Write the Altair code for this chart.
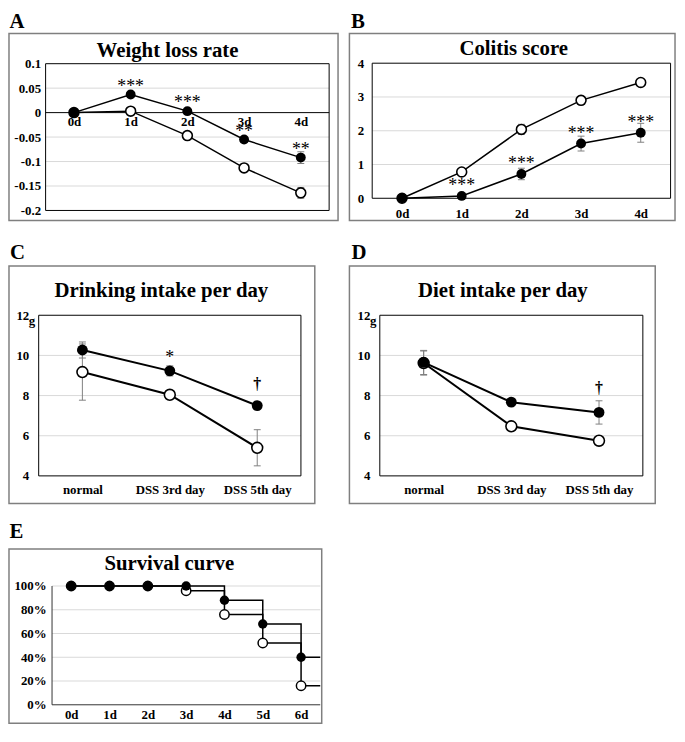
import json
import altair as alt
import pandas as pd

FONT = "Liberation Serif"
GRID = "#d9d9d9"
ERR = "#7f7f7f"

# ---------------- data ----------------
days5 = ["0d", "1d", "2d", "3d", "4d"]
days7 = ["0d", "1d", "2d", "3d", "4d", "5d", "6d"]
intake_cats = ["normal", "DSS 3rd day", "DSS 5th day"]

wl_filled = [0, 0.037, 0.003, -0.055, -0.092]
wl_filled_err = [0, 0.004, 0.004, 0.006, 0.012]
wl_open = [0, 0.003, -0.047, -0.113, -0.164]
wl_open_err = [0, 0.003, 0.004, 0.006, 0.011]
wl_marks = ["", "***", "***", "**", "**"]
wl_ticks = [0.1, 0.05, 0, -0.05, -0.1, -0.15, -0.2]
wl_grid = [0.05, -0.05, -0.1, -0.15]

cs_filled = [0, 0.07, 0.72, 1.62, 1.94]
cs_filled_err = [0, 0.05, 0.17, 0.22, 0.28]
cs_open = [0, 0.78, 2.04, 2.9, 3.43]
cs_open_err = [0, 0.08, 0.15, 0.12, 0.05]
cs_marks = ["", "***", "***", "***", "***"]
cs_ticks = [0, 1, 2, 3, 4]
cs_grid = [1, 2, 3]

dr_filled = [10.27, 9.23, 7.5]
dr_filled_err = [0.4, 0.25, 0.12]
dr_open = [9.17, 8.04, 5.4]
dr_open_err = [1.4, 0.1, 0.9]
dr_marks = ["", "*", "†"]

di_filled = [9.65, 7.67, 7.16]
di_filled_err = [0.6, 0.1, 0.58]
di_open = [9.62, 6.47, 5.75]
di_open_err = [0.6, 0.1, 0.12]
di_marks = ["", "", "†"]

intake_ticks = [4, 6, 8, 10, 12]
intake_grid = [6, 8, 10]

sv_filled = [100, 100, 100, 100, 88, 68, 40]
sv_open = [100, 100, 100, 96, 76, 52, 16]
sv_ticks = [0, 20, 40, 60, 80, 100]
sv_grid = [20, 40, 60, 80, 100]

titles = ["Weight loss rate", "Colitis score", "Drinking intake per day",
          "Diet intake per day", "Survival curve"]
letters = ["A", "B", "C", "D", "E"]

# ---------------- geometry (pixels inside each panel box) ----------------
GA = dict(W=332.5, H=189, pl=37, pr=323.5, pt=30.5, pb=178.8, axis_y=79.9,
          xpad=3, ypad=5, tx=160.2, ty=23.5, lx=0.5, ly=-5.5)
GB = dict(W=329, H=189, pl=23, pr=324.5, pt=30, pb=166.5, axis_y=166.5,
          xpad=9, ypad=8.5, tx=166, ty=21.5, lx=1.5, ly=-5.5)
GC = dict(W=309, H=240, pl=30, pr=295, pt=49.7, pb=212, axis_y=212,
          xpad=8, ypad=10, tx=154, ty=31, lx=1, ly=-7)
GD = dict(W=309, H=240, pl=30.7, pr=296.5, pt=49.7, pb=212, axis_y=212,
          xpad=8, ypad=10, tx=155, ty=31, lx=2, ly=-7)
GE = dict(W=316, H=176, pl=43.5, pr=314.5, pt=37.3, pb=157.3, axis_y=157.3,
          xpad=4, ypad=6, tx=162, ty=20.7, lx=0.5, ly=-11)


def axes(g, n, cats, yvals, ylab_expr, xmax=None):
    xmax = n - 0.5 if xmax is None else xmax
    xs = alt.Scale(domain=[-0.5, xmax], range=[g["pl"], g["pr"]], nice=False, zero=False)
    common = dict(title=None, domain=False, ticks=False, grid=False, labelFont=FONT,
                  labelFontWeight="bold", labelFontSize=13, labelColor="black",
                  labelFlush=False, labelOverlap=False)
    xaxis = alt.Axis(values=list(range(n)), labelExpr=json.dumps(cats) + "[datum.value]",
                     labelPadding=g["xpad"], offset=-(g["H"] - g["axis_y"]), labelAngle=0,
                     **common)
    yaxis = alt.Axis(values=yvals, labelExpr=ylab_expr, labelPadding=g["ypad"],
                     offset=-g["pl"], **common)
    return xs, xaxis, yaxis


def text_layers(g, title, letter):
    t = alt.Chart(pd.DataFrame({"t": [title]})).mark_text(
        font=FONT, fontSize=21, fontWeight="bold", align="center",
        baseline="alphabetic").encode(
        x=alt.value(g["tx"]), y=alt.value(g["ty"]), text="t:N", color=alt.value("black"))
    l = alt.Chart(pd.DataFrame({"t": [letter]})).mark_text(
        font=FONT, fontSize=21, fontWeight="bold", align="left",
        baseline="alphabetic").encode(
        x=alt.value(g["lx"]), y=alt.value(g["ly"]), text="t:N", color=alt.value("black"))
    return [t, l]


def line_panel(g, title, letter, cats, f, fe, o, oe, marks, ydom, yvals, grids,
               ylab_expr, lw=1.5, size=100, star_dy=-3, dagger_dy=-19,
               zero_line=False, unit=False):
    n = len(cats)
    xs, xaxis, yaxis = axes(g, n, cats, yvals, ylab_expr)
    ys = alt.Scale(domain=ydom, range=[g["pb"], g["pt"]], nice=False, zero=False)
    X = alt.X("x:Q", scale=xs, axis=xaxis)
    Y = alt.Y("y:Q", scale=ys, axis=yaxis)

    rows = []
    for grp, vals, errs in (("open", o, oe), ("filled", f, fe)):
        for i, (v, e) in enumerate(zip(vals, errs)):
            rows.append({"x": i, "y": v, "lo": v - e, "hi": v + e, "e": e, "grp": grp})
    df = pd.DataFrame(rows)
    edf = df[df.e > 0]
    err_df = pd.DataFrame({"x": edf.x, "y": edf.lo, "y2": edf.hi})
    cap_df = pd.concat([pd.DataFrame({"x": edf.x, "y": edf.lo}),
                        pd.DataFrame({"x": edf.x, "y": edf.hi})])

    layers = []
    layers.append(alt.Chart(pd.DataFrame({"x": [-0.5] * len(grids), "x2": [n - 0.5] * len(grids),
                                          "y": grids}))
                  .mark_rule(color=GRID, strokeWidth=1)
                  .encode(x=X, x2="x2:Q", y=Y))
    layers.append(alt.Chart(pd.DataFrame({"x": [-0.5], "x2": [n - 0.5], "y": [ydom[0]],
                                          "y2": [ydom[1]]}))
                  .mark_rect(fillOpacity=0, stroke="black", strokeWidth=1)
                  .encode(x=X, x2="x2:Q", y=Y, y2="y2:Q"))
    if zero_line:
        layers.append(alt.Chart(pd.DataFrame({"x": [-0.5], "x2": [n - 0.5], "y": [0]}))
                      .mark_rule(color="black", strokeWidth=1)
                      .encode(x=X, x2="x2:Q", y=Y))
    layers.append(alt.Chart(err_df).mark_rule(color=ERR, strokeWidth=1)
                  .encode(x=X, y=Y, y2="y2:Q"))
    layers.append(alt.Chart(cap_df).mark_tick(orient="horizontal", size=7, thickness=1,
                                              color=ERR, opacity=1)
                  .encode(x=X, y=Y))
    layers.append(alt.Chart(df).mark_line(color="black", strokeWidth=lw)
                  .encode(x=X, y=Y, detail="grp:N"))
    layers.append(alt.Chart(df[df.grp == "open"])
                  .mark_circle(size=size, opacity=1, color="white", stroke="black",
                               strokeWidth=1.6)
                  .encode(x=X, y=Y))
    layers.append(alt.Chart(df[df.grp == "filled"])
                  .mark_circle(size=size, opacity=1, color="black")
                  .encode(x=X, y=Y))
    stars = [(i, f[i], m) for i, m in enumerate(marks) if m and "*" in m]
    daggers = [(i, f[i], m) for i, m in enumerate(marks) if m and "*" not in m]
    if stars:
        sdf = pd.DataFrame(stars, columns=["x", "y", "t"])
        layers.append(alt.Chart(sdf).mark_text(font=FONT, fontSize=18, baseline="alphabetic",
                                               align="center", dy=star_dy)
                      .encode(x=X, y=Y, text="t:N", color=alt.value("black")))
    if daggers:
        ddf = pd.DataFrame(daggers, columns=["x", "y", "t"])
        layers.append(alt.Chart(ddf).mark_text(font=FONT, fontSize=16, fontWeight="bold",
                                               baseline="alphabetic", align="center",
                                               dy=dagger_dy)
                      .encode(x=X, y=Y, text="t:N", color=alt.value("black")))
    if unit:
        layers.append(alt.Chart(pd.DataFrame({"x": [-0.5], "y": [ydom[1]], "t": ["g"]}))
                      .mark_text(font=FONT, fontSize=13, fontWeight="bold", align="left",
                                 baseline="alphabetic", dx=-10, dy=10)
                      .encode(x=X, y=Y, text="t:N", color=alt.value("black")))
    layers += text_layers(g, title, letter)
    return alt.layer(*layers).properties(width=g["W"], height=g["H"])


def survival_panel(g):
    n = len(days7)
    xs, xaxis, yaxis = axes(g, n, days7, sv_ticks, "datum.value + '%'")
    ys = alt.Scale(domain=[0, 100], range=[g["pb"], g["pt"]], nice=False, zero=False)
    X = alt.X("x:Q", scale=xs, axis=xaxis)
    Y = alt.Y("y:Q", scale=ys, axis=yaxis)
    rows, pts = [], []
    for grp, vals in (("open", sv_open), ("filled", sv_filled)):
        for i, v in enumerate(vals):
            rows.append({"x": i, "y": v, "grp": grp})
            pts.append({"x": i, "y": v, "grp": grp})
        rows.append({"x": n - 0.5, "y": vals[-1], "grp": grp})
    ldf = pd.DataFrame(rows)
    pdf = pd.DataFrame(pts)
    layers = [
        alt.Chart(pd.DataFrame({"x": [-0.5] * len(sv_grid), "x2": [n - 0.5] * len(sv_grid),
                                "y": sv_grid}))
        .mark_rule(color=GRID, strokeWidth=1).encode(x=X, x2="x2:Q", y=Y),
        alt.Chart(pd.DataFrame({"x": [-0.5], "x2": [n - 0.5], "y": [0]}))
        .mark_rule(color="#333333", strokeWidth=1).encode(x=X, x2="x2:Q", y=Y),
        alt.Chart(pd.DataFrame({"x": [-0.5], "y": [0], "y2": [100]}))
        .mark_rule(color="#333333", strokeWidth=1).encode(x=X, y=Y, y2="y2:Q"),
        alt.Chart(ldf).mark_line(color="black", strokeWidth=1.5, interpolate="step-after")
        .encode(x=X, y=Y, detail="grp:N"),
        alt.Chart(pdf[pdf.grp == "open"])
        .mark_circle(size=90, opacity=1, color="white", stroke="black", strokeWidth=1.5)
        .encode(x=X, y=Y),
        alt.Chart(pdf[pdf.grp == "filled"])
        .mark_circle(size=90, opacity=1, color="black").encode(x=X, y=Y),
    ]
    layers += text_layers(g, titles[4], letters[4])
    return alt.layer(*layers).properties(width=g["W"], height=g["H"])


A = line_panel(GA, titles[0], letters[0], days5, wl_filled, wl_filled_err, wl_open, wl_open_err,
               wl_marks, [-0.2, 0.1], wl_ticks, wl_grid,
               "(datum.value < 0 ? '-' : '') + format(abs(datum.value), '~g')",
               star_dy=-3, zero_line=True)
B = line_panel(GB, titles[1], letters[1], days5, cs_filled, cs_filled_err, cs_open, cs_open_err,
               cs_marks, [0, 4], cs_ticks, cs_grid, "format(datum.value, 'd')", star_dy=-5)
C = line_panel(GC, titles[2], letters[2], intake_cats, dr_filled, dr_filled_err, dr_open,
               dr_open_err, dr_marks, [4, 12], intake_ticks, intake_grid,
               "format(datum.value, 'd')", lw=2, size=120, star_dy=-8, dagger_dy=-17, unit=True)
D = line_panel(GD, titles[3], letters[3], intake_cats, di_filled, di_filled_err, di_open,
               di_open_err, di_marks, [4, 12], intake_ticks, intake_grid,
               "format(datum.value, 'd')", lw=2, size=120, star_dy=-8, dagger_dy=-20, unit=True)
E = survival_panel(GE)

chart = (alt.concat(A, B, C, D, E, columns=2, bounds="flush", align="each",
                    spacing={"row": 46, "column": 11})
         .properties(padding={"left": 0, "top": -2, "right": 1, "bottom": 1})
         .configure_view(stroke="#7f7f7f", strokeWidth=1.5))

chart.save("out.html", embed_options={"renderer": "svg", "actions": False})
